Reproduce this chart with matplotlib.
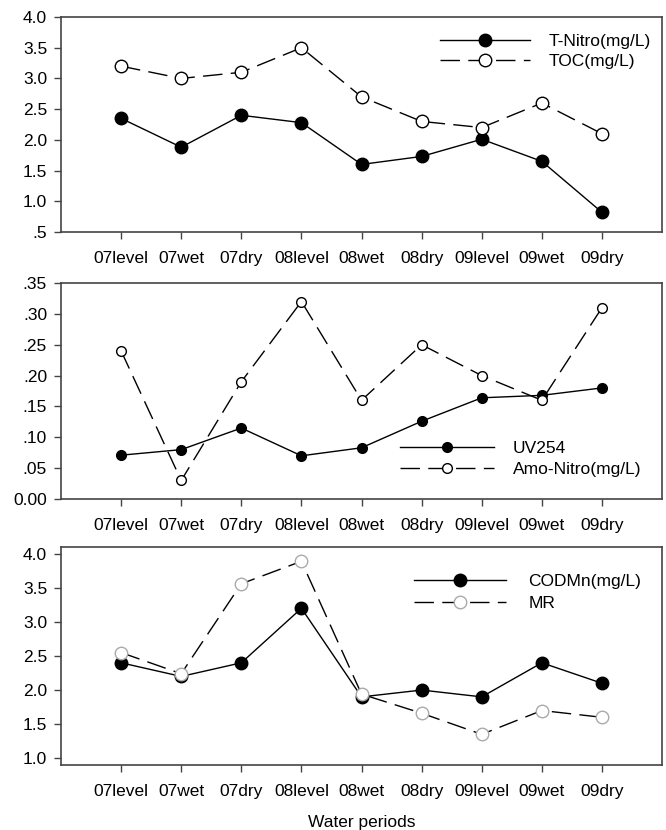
import numpy as np
import matplotlib.pyplot as plt

plt.rcParams['font.family'] = ['Liberation Sans', 'DejaVu Sans']

periods = ['07level', '07wet', '07dry', '08level', '08wet', '08dry', '09level', '09wet', '09dry']

t_nitro = [2.35, 1.88, 2.40, 2.28, 1.60, 1.73, 2.01, 1.65, 0.82]
toc = [3.2, 3.0, 3.1, 3.5, 2.7, 2.3, 2.2, 2.6, 2.1]

uv254 = [0.071, 0.080, 0.115, 0.070, 0.083, 0.126, 0.164, 0.168, 0.180]
amo_nitro = [0.24, 0.03, 0.19, 0.32, 0.16, 0.25, 0.20, 0.16, 0.31]

codmn = [2.4, 2.2, 2.4, 3.2, 1.9, 2.0, 1.9, 2.4, 2.1]
mr = [2.55, 2.24, 3.56, 3.89, 1.94, 1.66, 1.35, 1.70, 1.60]

x = np.arange(1, len(periods) + 1)

fig = plt.figure(figsize=(6.66, 8.30), dpi=100)
ax1 = fig.add_axes([0.0916, 0.7205, 0.9025, 0.259])
ax2 = fig.add_axes([0.0916, 0.3988, 0.9025, 0.2602])
ax3 = fig.add_axes([0.0916, 0.0783, 0.9025, 0.2627])

dash = (14, 6)
spine_col = '#444444'
fs = 12.5


def style(ax, yticks, ylabels, ylim):
    ax.set_xlim(0, 10)
    ax.set_xticks(x)
    ax.set_xticklabels(periods, fontsize=fs)
    ax.set_ylim(*ylim)
    ax.set_yticks(yticks)
    ax.set_yticklabels(ylabels, fontsize=fs)
    ax.tick_params(direction='out', length=5, width=1.0, color=spine_col, pad=5)
    ax.tick_params(axis='x', pad=9)
    for s in ax.spines.values():
        s.set_color(spine_col)
        s.set_linewidth(1.2)


# panel 1
ax1.plot(x, t_nitro, '-', color='black', lw=1.0, marker='o', ms=9,
         mfc='black', mec='black', label='T-Nitro(mg/L)')
ax1.plot(x, toc, color='black', lw=1.0, dashes=dash, marker='o', ms=9,
         mfc='white', mec='black', label='TOC(mg/L)')
style(ax1, np.arange(0.5, 4.01, 0.5),
      ['.5', '1.0', '1.5', '2.0', '2.5', '3.0', '3.5', '4.0'], (0.5, 4.0))
ax1.legend(loc='center left', bbox_to_anchor=(0.63, 0.84), frameon=False,
           fontsize=fs, handlelength=5.2, handletextpad=1.1, borderpad=0,
           borderaxespad=0, labelspacing=0.3)

# panel 2
ax2.plot(x, uv254, '-', color='black', lw=1.0, marker='o', ms=7,
         mfc='black', mec='black', label='UV254')
ax2.plot(x, amo_nitro, color='black', lw=1.0, dashes=dash, marker='o', ms=7,
         mfc='white', mec='black', label='Amo-Nitro(mg/L)')
style(ax2, np.arange(0, 0.351, 0.05),
      ['0.00', '.05', '.10', '.15', '.20', '.25', '.30', '.35'], (0, 0.35))
ax2.legend(loc='center left', bbox_to_anchor=(0.564, 0.185), frameon=False,
           fontsize=fs, handlelength=5.4, handletextpad=1.1, borderpad=0,
           borderaxespad=0, labelspacing=0.3)

# panel 3
ax3.plot(x, codmn, '-', color='black', lw=1.0, marker='o', ms=9,
         mfc='black', mec='black', label='CODMn(mg/L)')
ax3.plot(x, mr, color='black', lw=1.0, dashes=dash, marker='o', ms=9,
         mfc='white', mec='#aaaaaa', label='MR')
style(ax3, np.arange(1.0, 4.01, 0.5),
      ['1.0', '1.5', '2.0', '2.5', '3.0', '3.5', '4.0'], (0.9, 4.1))
ax3.legend(loc='center left', bbox_to_anchor=(0.587, 0.79), frameon=False,
           fontsize=fs, handlelength=5.3, handletextpad=1.3, borderpad=0,
           borderaxespad=0, labelspacing=0.4)
ax3.set_xlabel('Water periods', fontsize=fs, labelpad=11)

fig.savefig('out.png', dpi=100)
